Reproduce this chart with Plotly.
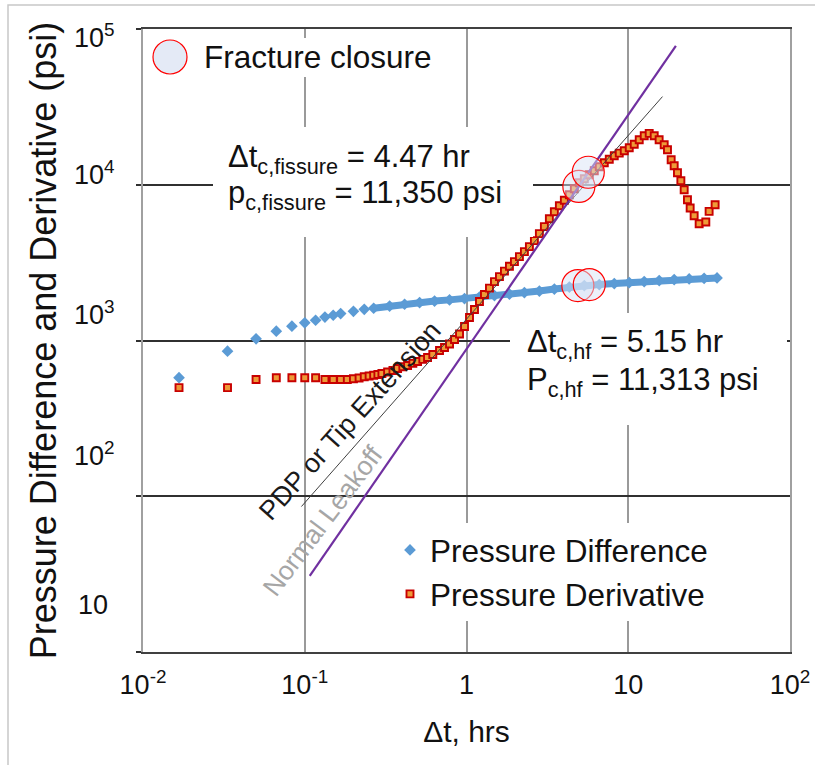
import numpy as np
import plotly.graph_objects as go

# ---------------- data ----------------
diff_t = [0.0167, 0.0333, 0.05, 0.0667, 0.0833, 0.1, 0.1167, 0.1333, 0.15, 0.1667,
          0.2, 0.2333, 0.2667, 0.3347, 0.4143, 0.5128, 0.6346, 0.7854, 0.972, 1.203,
          1.489, 1.843, 2.280, 2.822, 3.493, 4.323, 5.351, 6.622, 8.197, 10.14,
          12.55, 15.54, 19.23, 23.80, 29.45, 35.4]
diff_p = [577, 854, 1025, 1147, 1235, 1299, 1349, 1413, 1453, 1489,
          1539, 1585, 1611, 1664, 1709, 1752, 1791, 1823, 1858, 1900,
          1943, 1986, 2030, 2076, 2138, 2202, 2252, 2286, 2320, 2354,
          2389, 2424, 2460, 2486, 2508, 2523]

deriv_t = [0.0167, 0.0333, 0.05, 0.0667, 0.0833, 0.1, 0.1167, 0.1333, 0.15, 0.1667,
           0.1833, 0.2, 0.2167, 0.2333, 0.25, 0.2667, 0.2833, 0.3, 0.3253, 0.351,
           0.375, 0.404, 0.4323, 0.466, 0.4983, 0.537, 0.5744, 0.619, 0.681, 0.7313,
           0.7854, 0.8432, 0.9054, 0.972, 1.0436, 1.1204, 1.2028, 1.2915, 1.3868, 1.489,
           1.5988, 1.7163, 1.8427, 1.9785, 2.1243, 2.2803, 2.4484, 2.6291, 2.822, 3.0304,
           3.2532, 3.4931, 3.751, 4.0264, 4.3231, 4.6419, 4.9831, 5.3505, 5.7449, 6.1674,
           6.6222, 7.1105, 7.6336, 8.1965, 8.7992, 9.447, 10.144, 10.889, 11.692, 12.554,
           13.477, 14.47, 15.52, 16.68, 17.48, 18.42, 19.23, 20.15, 21.15, 22.17,
           23.23, 24.14, 25.55, 27.44, 30.17, 31.62, 34.44]
deriv_p = [498, 498, 562, 577, 577, 577, 577, 562, 562, 562,
           562, 568, 575, 585, 592, 598, 605, 614, 628, 642,
           661, 678, 691, 713, 733, 756, 778, 813, 863, 902,
           950, 1015, 1101, 1229, 1404, 1580, 1778, 1972, 2170, 2389,
           2572, 2789, 2995, 3209, 3455, 3720, 4005, 4375, 4852, 5381,
           6055, 6712, 7335, 7954, 8628, 9428, 10299, 10926, 11589, 12292,
           13043, 13836, 14571, 15342, 15966, 16516, 17265, 18180, 19430, 20613,
           21380, 20613, 19430, 18050, 16760, 14465, 13240, 11940, 10608, 9289,
           8013, 7089, 6329, 5623, 5767, 6745, 7447]

closure_t = [4.95, 5.66, 4.88, 5.74]
closure_p = [9750, 12030, 2252, 2286]

leakoff_t = [0.1074, 19.70]
leakoff_p = [30.8, 77800]
pdp_t = [0.0954, 16.28]
pdp_p = [85.9, 36810]

x_tick_vals = [0.01, 0.1, 1, 10, 100]
x_tick_text = ["10<sup>-2</sup>", "10<sup>-1</sup>", "1", "10", "10<sup>2</sup>"]
y_tick_vals = [10, 100, 1000, 10000, 100000]
y_tick_text = ["10", "10<sup>2</sup>", "10<sup>3</sup>", "10<sup>4</sup>", "10<sup>5</sup>"]

# ---------------- styling helpers ----------------
FONT = "Liberation Sans, Arial, sans-serif"
W, H = 815, 765
L, R, T, B = 143, 25, 29, 113
PW, PH = W - L - R, H - T - B


def px(xp):
    return (xp - L) / PW


def py(yp):
    return (H - B - yp) / PH


BLUE = "#5b9bd5"
fig = go.Figure()

# continuous band of the dense pressure-difference record
band = [(t, p) for t, p in zip(diff_t, diff_p) if t >= 0.26]
fig.add_trace(go.Scatter(x=[b[0] for b in band], y=[b[1] for b in band], mode="lines",
                         line=dict(color=BLUE, width=7), showlegend=False, hoverinfo="skip"))
fig.add_trace(go.Scatter(x=diff_t, y=diff_p, mode="markers", name="Pressure Difference",
                         marker=dict(symbol="diamond", size=9, color=BLUE)))
fig.add_trace(go.Scatter(x=deriv_t, y=deriv_p, mode="markers", name="Pressure Derivative",
                         marker=dict(symbol="square", size=7, color="#ee9a38",
                                     line=dict(color="#c80000", width=1.9))))
fig.add_trace(go.Scatter(x=pdp_t, y=pdp_p, mode="lines", line=dict(color="#404040", width=1),
                         showlegend=False))
fig.add_trace(go.Scatter(x=leakoff_t, y=leakoff_p, mode="lines", line=dict(color="#7030a0", width=2.2),
                         showlegend=False))
fig.add_trace(go.Scatter(x=closure_t, y=closure_p, mode="markers", name="Fracture closure",
                         showlegend=False,
                         marker=dict(symbol="circle", size=32, color="rgba(218,228,245,0.5)",
                                     line=dict(color="#ff0000", width=1.2))))

shapes = []
# outer picture border
shapes.append(dict(type="rect", xref="paper", yref="paper", x0=px(8), x1=px(830),
                   y0=py(780), y1=py(5), line=dict(color="#c8c8c8", width=1.5),
                   fillcolor="rgba(0,0,0,0)", layer="above"))

ann = []
# white boxes behind the text blocks (they interrupt the grid as in the reference)
for x0, y0, x1, y1 in [(192, 38, 445, 77), (213, 127, 533, 237), (510, 313, 787, 425)]:
    ann.append(dict(xref="paper", yref="paper", x=px((x0 + x1) / 2), y=py((y0 + y1) / 2),
                    xanchor="center", yanchor="middle", text=" ", showarrow=False,
                    width=x1 - x0, height=y1 - y0, bgcolor="white", borderpad=0, borderwidth=0))
# fracture-closure key symbol
shapes.append(dict(type="circle", xref="paper", yref="paper", x0=px(153), x1=px(187),
                   y0=py(74), y1=py(40), fillcolor="rgb(228,234,246)",
                   line=dict(color="#ff0000", width=1.2), layer="above"))

ann.append(dict(xref="paper", yref="paper", x=px(202), y=py(57), xanchor="left", yanchor="middle",
                text="Fracture closure", showarrow=False, font=dict(size=31.5, color="#111")))
ann.append(dict(xref="paper", yref="paper", x=px(226), y=py(159), xanchor="left", yanchor="middle",
                text="Δt<sub>c,fissure</sub> = 4.47 hr", showarrow=False, font=dict(size=31, color="#111")))
ann.append(dict(xref="paper", yref="paper", x=px(226), y=py(195), xanchor="left", yanchor="middle",
                text="p<sub>c,fissure</sub> = 11,350 psi", showarrow=False, font=dict(size=31, color="#111")))
ann.append(dict(xref="paper", yref="paper", x=px(525), y=py(344), xanchor="left", yanchor="middle",
                text="Δt<sub>c,hf</sub> = 5.15 hr", showarrow=False, font=dict(size=31, color="#111")))
ann.append(dict(xref="paper", yref="paper", x=px(525), y=py(382), xanchor="left", yanchor="middle",
                text="P<sub>c,hf</sub> = 11,313 psi", showarrow=False, font=dict(size=31, color="#111")))
ann.append(dict(x=np.log10(0.1896), y=np.log10(304), text="PDP or Tip Extension", textangle=-48,
                showarrow=False, font=dict(size=27, color="#1a1a1a")))
ann.append(dict(x=np.log10(0.1291), y=np.log10(69.4), text="Normal Leakoff", textangle=-53,
                showarrow=False, font=dict(size=26.5, color="#a6a6a6")))
# y tick labels (placed as in the reference)
y_label_lift = [47, 42, 28, 12, -7]
for v, txt, lift in zip(y_tick_vals, y_tick_text, y_label_lift):
    ann.append(dict(xref="paper", yref="y", x=px(117), y=np.log10(v), yshift=lift,
                    xshift=0 if "<sup>" in txt else -7,
                    xanchor="right", yanchor="middle", text=txt, showarrow=False,
                    font=dict(size=27, color="#111")))

fig.update_layout(
    width=W, height=H, margin=dict(l=L, r=R, t=T, b=B, autoexpand=False),
    paper_bgcolor="white", plot_bgcolor="white",
    font=dict(family=FONT, color="#111"),
    showlegend=True,
    legend=dict(x=px(390), y=py(523), xanchor="left", yanchor="top", bgcolor="white",
                font=dict(size=31.5, color="#111"), itemsizing="trace", tracegroupgap=0),
    shapes=shapes, annotations=ann,
)
fig.update_xaxes(type="log", range=[-2, 2], tickvals=x_tick_vals, ticktext=x_tick_text,
                 tickfont=dict(size=27, color="#111"), ticks="", ticklabelstandoff=8,
                 automargin=False,
                 showgrid=True, gridcolor="#9a9a9a", gridwidth=1.5,
                 showline=True, linecolor="#404040", linewidth=1.6, mirror=True, zeroline=False,
                 title=dict(text="Δt, hrs", font=dict(size=30, color="#111"), standoff=22))
fig.update_yaxes(type="log", range=[1, 5], tickvals=y_tick_vals, showticklabels=False,
                 ticks="outside", ticklen=5, tickcolor="#303030", tickwidth=1.6,
                 automargin=False,
                 showgrid=True, gridcolor="#303030", gridwidth=1.6,
                 showline=True, linecolor="#a0a0a0", linewidth=1.6, mirror=True, zeroline=False,
                 title=dict(text="Pressure Difference and Derivative (psi)",
                            font=dict(size=36, color="#111"), standoff=69))

fig.write_html("out.html")
